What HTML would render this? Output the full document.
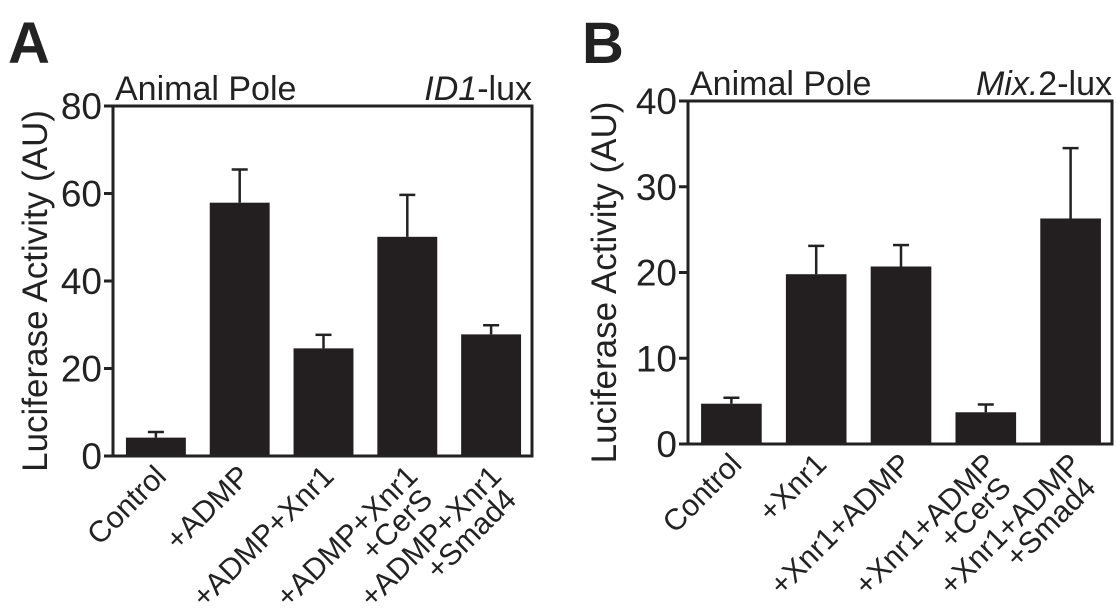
<!DOCTYPE html>
<html><head><meta charset="utf-8"><style>
html,body{margin:0;padding:0;background:#fff;}
svg{display:block;font-family:"Liberation Sans",Arial,sans-serif;}
</style></head><body>
<svg id="fig" width="1117" height="610" viewBox="0 0 1117 610"></svg>
<script>
const catsA = [["Control"],["+ADMP"],["+ADMP+Xnr1"],["+ADMP+Xnr1","+CerS"],["+ADMP+Xnr1","+Smad4"]];
const valsA = [4.2, 57.9, 24.6, 50.1, 27.8];
const errA = [5.5, 65.5, 27.7, 59.7, 29.9];
const ticksA = [0, 20, 40, 60, 80];
const catsB = [["Control"],["+Xnr1"],["+Xnr1+ADMP"],["+Xnr1+ADMP","+CerS"],["+Xnr1+ADMP","+Smad4"]];
const valsB = [4.7, 19.8, 20.7, 3.7, 26.3];
const errB = [5.4, 23.1, 23.2, 4.6, 34.5];
const ticksB = [0, 10, 20, 30, 40];

const NS = "http://www.w3.org/2000/svg";
const svg = document.getElementById("fig");
function mk(tag, attrs, parent){
  const e = document.createElementNS(NS, tag);
  for (const k in attrs) e.setAttribute(k, attrs[k]);
  (parent||svg).appendChild(e);
  return e;
}
function panel(cfg){
  const g = mk("g", {});
  
  
  const {x0,x1,y0,y1,ymax,cats,vals,errs,ticks} = cfg;
  const ys = v => y0 - (v/ymax)*(y0-y1);
  const step = (x1-x0)/cats.length;
  const bw = step*0.715;
  const xc = i => x0 + step*(i+0.5) + 1;
  const L = mk("text",{x:cfg.lx,y:63,"font-size":58,"font-weight":"bold",fill:"#222"},g);
  L.textContent = cfg.letter;
  
  
  const t1 = mk("text",{x:x0+2,y:y1-6,"font-size":34,fill:"#222"},g);
  t1.textContent = "Animal Pole";
  
  
  const t2 = mk("text",{x:x1,y:y1-6,"font-size":34,fill:"#222","text-anchor":"end"},g);
  t2.innerHTML = cfg.reporter;
  
  
  vals.forEach((v,i)=>{
    const cx = xc(i);
    const el = mk("line",{x1:cx,x2:cx,y1:ys(v),y2:ys(errs[i]),stroke:"#222","stroke-width":2.5},g);
    
    
    const cap = mk("line",{x1:cx-8,x2:cx+8,y1:ys(errs[i]),y2:ys(errs[i]),stroke:"#222","stroke-width":2.5},g);
    
    
    const r = mk("rect",{x:cx-bw/2,y:ys(v),width:bw,height:y0-ys(v),fill:"#231f20"},g);
    
    
    const lt = mk("text",{transform:`translate(${cx+12},${y0+22}) rotate(-45)`,"font-size":30,fill:"#222","text-anchor":"end"},g);
    
    
    cats[i].forEach((s,j)=>{
      const ts = mk("tspan",{x:j?-6:0,dy:j?"0.9em":"0"},lt);
      ts.textContent = s;
    });
  });
  const fr = mk("path",{d:`M${x0},${y1} L${x0},${y0} L${x1},${y0} L${x1},${y1} Z`,fill:"none",stroke:"#222","stroke-width":3},g);
  
  
  ticks.forEach(t=>{
    const y = ys(t);
    const tl = mk("line",{x1:x0-9,x2:x0,y1:y,y2:y,stroke:"#222","stroke-width":3},g);
    
    
    const tx = mk("text",{x:x0-11,y:y+13,"font-size":37,fill:"#222","text-anchor":"end"},g);
    tx.textContent = t;
    
    
  });
  const yt = mk("text",{transform:`translate(${cfg.ytx},${(y0+y1)/2+10}) rotate(-90)`,"font-size":35,fill:"#222","text-anchor":"middle"},g);
  yt.textContent = 'Luciferase Activity (AU)';
  
  
}
panel({name:"panel-a",letter:"A",lx:8,x0:113,x1:532,y0:456,y1:106,ymax:80,cats:catsA,vals:valsA,errs:errA,ticks:ticksA,
  reporter:'<tspan font-style="italic">ID1</tspan>-lux',ytx:47});
panel({name:"panel-b",letter:"B",lx:582,x0:688,x1:1112,y0:444,y1:101,ymax:40,cats:catsB,vals:valsB,errs:errB,ticks:ticksB,
  reporter:'<tspan font-style="italic">Mix.</tspan>2-lux',ytx:616});
</script>
</body></html>
